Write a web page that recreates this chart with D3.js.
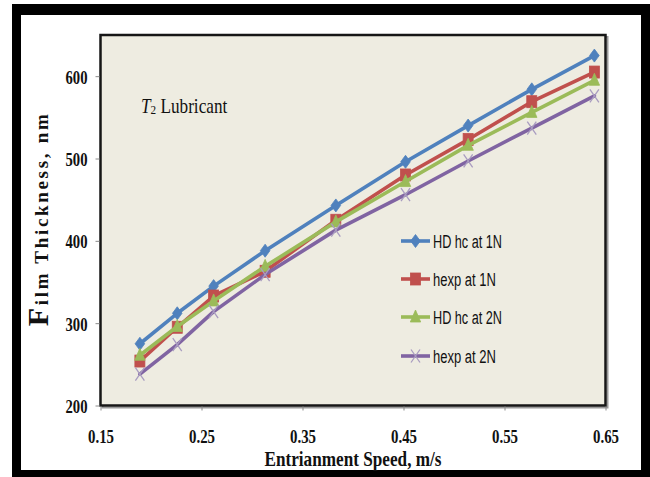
<!DOCTYPE html>
<html>
<head>
<meta charset="utf-8">
<script src="https://cdn.jsdelivr.net/npm/d3@7"></script>
<style>
  html, body { margin: 0; padding: 0; background: #ffffff; }
  svg { display: block; }
</style>
</head>
<body>
<svg id="chart" width="650" height="477"></svg>
<script>
// Entrainment speed (m/s) at each measurement
const speed = [0.189, 0.226, 0.262, 0.313, 0.383, 0.452, 0.514, 0.577, 0.639];

// Film thickness (nm) for each series
const hdHc1N = [275, 312, 345, 388, 443, 496, 540, 584, 625];
const hexp1N = [254, 295, 333, 363, 425, 480, 523, 569, 605];
const hdHc2N = [261, 296, 327, 369, 423, 472, 516, 556, 595];
const hexp2N = [238, 274, 314, 359, 413, 456, 497, 537, 576];

const seriesNames = ["HD hc at 1N", "hexp at 1N", "HD hc at 2N", "hexp at 2N"];
const seriesValues = [hdHc1N, hexp1N, hdHc2N, hexp2N];
const seriesColors = ["#4F81BD", "#C0504D", "#9BBB59", "#8064A2"];
const seriesMarkers = ["diamond", "square", "triangle", "cross"];

const xTicks = [0.15, 0.25, 0.35, 0.45, 0.55, 0.65];
const yTicks = [200, 300, 400, 500, 600];

const svg = d3.select("#chart");

// Outer black frame with white page inside
svg.append("rect").attr("x", 12).attr("y", 4).attr("width", 638).attr("height", 473).attr("fill", "#000");
svg.append("rect").attr("x", 21).attr("y", 15).attr("width", 620).attr("height", 455).attr("fill", "#fff");

const plot = { left: 100.5, right: 605.5, top: 35, bottom: 405.5 };

const x = d3.scaleLinear().domain([0.15, 0.65]).range([plot.left, plot.right]);
const y = d3.scaleLinear().domain([200, 650]).range([plot.bottom, plot.top]);

// Plot area: soft shadow, then filled panel with dark border
svg.append("rect")
  .attr("x", plot.left + 2).attr("y", plot.top + 2)
  .attr("width", plot.right - plot.left).attr("height", plot.bottom - plot.top)
  .attr("fill", "none").attr("stroke", "#9a9a9a").attr("stroke-width", 2);
svg.append("rect")
  .attr("x", plot.left).attr("y", plot.top)
  .attr("width", plot.right - plot.left).attr("height", plot.bottom - plot.top)
  .attr("fill", "#EEECE1").attr("stroke", "#161616").attr("stroke-width", 2.5);

const serif = "'Liberation Serif', 'Times New Roman', serif";

// Y axis
const yAxis = svg.append("g")
  .attr("transform", `translate(${plot.left - 1},0)`)
  .call(d3.axisLeft(y).tickValues(yTicks).tickSize(4).tickFormat(d3.format("d")));
yAxis.select(".domain").remove();
yAxis.selectAll(".tick line").attr("stroke", "#8a8a8a").attr("stroke-width", 1);
yAxis.selectAll(".tick text")
  .attr("x", -12).attr("dy", "0.36em")
  .attr("font-family", serif).attr("font-weight", "bold").attr("font-size", 19)
  .attr("fill", "#111")
  .attr("textLength", 22).attr("lengthAdjust", "spacingAndGlyphs");

// X axis
const xAxis = svg.append("g")
  .attr("transform", `translate(0,${plot.bottom + 1})`)
  .call(d3.axisBottom(x).tickValues(xTicks).tickSize(4).tickFormat(d3.format(".2f")));
xAxis.select(".domain").remove();
xAxis.selectAll(".tick line").attr("stroke", "#8a8a8a").attr("stroke-width", 1);
xAxis.selectAll(".tick text")
  .attr("y", 36.5).attr("dy", 0)
  .attr("font-family", serif).attr("font-weight", "bold").attr("font-size", 18)
  .attr("fill", "#111")
  .attr("textLength", 26).attr("lengthAdjust", "spacingAndGlyphs");

// Axis titles
svg.append("text")
  .attr("x", (plot.left + plot.right) / 2).attr("y", 465.5)
  .attr("text-anchor", "middle")
  .attr("font-family", serif).attr("font-weight", "bold").attr("font-size", 21)
  .attr("fill", "#111")
  .attr("textLength", 177).attr("lengthAdjust", "spacingAndGlyphs")
  .text("Entrianment Speed, m/s");

const yTitle = svg.append("text")
  .attr("transform", `translate(48,${(plot.top + plot.bottom) / 2}) rotate(-90)`)
  .attr("text-anchor", "middle")
  .attr("font-family", serif).attr("font-weight", "bold")
  .attr("fill", "#111")
  .attr("textLength", 212).attr("lengthAdjust", "spacing");
yTitle.append("tspan").attr("font-size", 30).text("F");
yTitle.append("tspan").attr("font-size", 19).text("ilm Thickness, nm");

// Annotation: italic T with subscript 2
svg.append("text")
  .attr("transform", "translate(141,113) scale(0.86,1)")
  .attr("font-family", serif).attr("font-size", 20).attr("fill", "#111")
  .html('<tspan font-style="italic">T</tspan><tspan font-size="13" dy="1">2</tspan><tspan dy="-1"> Lubricant</tspan>');

// Marker shapes
function drawMarker(g, type, color, cx, cy) {
  if (type === "diamond") {
    g.append("path")
      .attr("d", `M${cx},${cy - 6.5} L${cx + 4.8},${cy} L${cx},${cy + 6.5} L${cx - 4.8},${cy} Z`)
      .attr("fill", color).attr("stroke", color).attr("stroke-width", 0.8);
  } else if (type === "square") {
    g.append("rect")
      .attr("x", cx - 5).attr("y", cy - 6).attr("width", 10).attr("height", 12)
      .attr("fill", color).attr("stroke", color).attr("stroke-width", 0.8);
  } else if (type === "triangle") {
    g.append("path")
      .attr("d", `M${cx},${cy - 7} L${cx + 5.2},${cy + 5} L${cx - 5.2},${cy + 5} Z`)
      .attr("fill", color).attr("stroke", color).attr("stroke-width", 0.8);
  } else {
    g.append("path")
      .attr("d", `M${cx - 4.5},${cy - 6.5} L${cx + 4.5},${cy + 6.5} M${cx + 4.5},${cy - 6.5} L${cx - 4.5},${cy + 6.5}`)
      .attr("fill", "none").attr("stroke", "#A99CC0").attr("stroke-width", 1.3);
  }
}

const line = d3.line().x(d => x(d[0])).y(d => y(d[1]));

// Series: line then markers, in drawing order
seriesValues.forEach((vals, i) => {
  const pts = speed.map((s, j) => [s, vals[j]]);
  const g = svg.append("g");
  g.append("path")
    .attr("d", line(pts))
    .attr("fill", "none").attr("stroke", seriesColors[i])
    .attr("stroke-width", 3.6).attr("stroke-linejoin", "round").attr("stroke-linecap", "round");
  pts.forEach(p => drawMarker(g, seriesMarkers[i], seriesColors[i], x(p[0]), y(p[1])));
});

// Legend
const legendRows = [241, 279, 317, 356];
const legendWidths = [69, 63, 69, 63];
seriesNames.forEach((name, i) => {
  const g = svg.append("g");
  const cy = legendRows[i];
  g.append("line")
    .attr("x1", 401).attr("x2", 430).attr("y1", cy).attr("y2", cy)
    .attr("stroke", seriesColors[i]).attr("stroke-width", 3.6);
  drawMarker(g, seriesMarkers[i], seriesColors[i], 415.5, cy);
  g.append("text")
    .attr("x", 433).attr("y", cy + 6.5)
    .attr("font-family", "'Liberation Sans Narrow', 'Liberation Sans', Arial, sans-serif")
    .attr("font-size", 18).attr("fill", "#111")
    .attr("textLength", legendWidths[i]).attr("lengthAdjust", "spacingAndGlyphs")
    .text(name);
});
</script>
</body>
</html>
